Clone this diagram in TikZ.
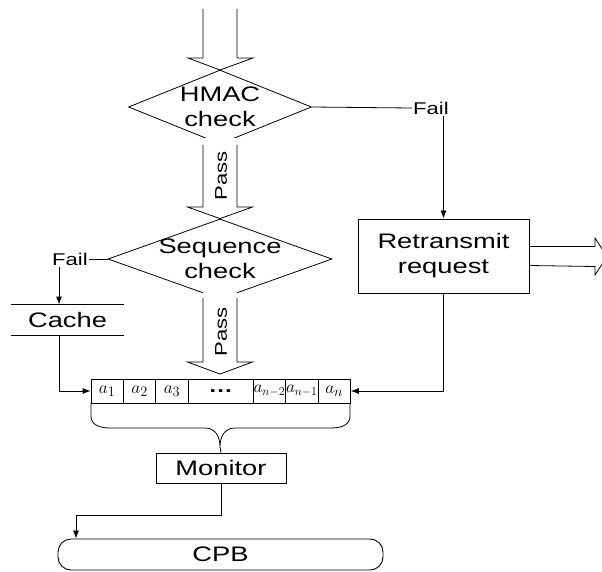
\documentclass[tikz,border=0pt]{standalone}
\usepackage{fontspec}
\setmainfont{Liberation Sans}[FakeStretch=1.3]
\usetikzlibrary{shapes.geometric,arrows.meta}

\tikzset{
  bigtxt/.style={font=\fontsize{21}{25}\selectfont, align=center},
  failtxt/.style={font=\fontsize{17}{20}\selectfont, inner sep=1pt},
  box/.style={draw, line width=0.9pt, bigtxt},
  decide/.style={diamond, draw, fill=white, inner sep=0pt},
  cell/.style={draw, minimum width=32.4pt, minimum height=24pt, inner sep=0pt, font=\fontsize{19}{19}\selectfont},
  tightcell/.style={cell, font=\fontsize{16.5}{17}\selectfont},
  conn/.style={-{Latex[length=8pt,width=6pt]}},
  hollow/.style={fill=white},
}

\begin{document}
\begin{tikzpicture}[x=1pt, y=-1pt, line width=0.8pt]
    \useasboundingbox (0,0) rectangle (602,571);
    \clip (0,0) rectangle (602,571);

    % incoming arrow
    \draw (203,9) -- (203,58) -- (188,58) -- (220,70) -- (253,58) -- (237,58) -- (237,9);

    % checks
    \node[decide, minimum width=183pt, minimum height=74pt, label={[bigtxt]center:HMAC\\check}] (hmac) at (220,107) {};
    \node[decide, minimum width=224pt, minimum height=80pt, label={[bigtxt]center:Sequence\\check}] (seq) at (220,259) {};

    % boxes
    \node[box, minimum width=171pt, minimum height=74pt] (retx) at (443.5,256) {Retransmit\\request};
    \node[bigtxt, minimum width=113pt, minimum height=30pt] (cache) at (67.5,320) {Cache};
    \draw (cache.north west) -- (cache.north east);
    \draw (cache.south west) -- (cache.south east);
    \node[box, minimum width=130pt, minimum height=30pt] (mon) at (221,468) {Monitor};
    \node[box, rounded corners=13pt, minimum width=325pt, minimum height=31pt] (cpb) at (220.5,554.5) {CPB};

    \node[failtxt] (fail1) at (431,108) {Fail};
    \node[failtxt] (fail2) at (70,259) {Fail};

    % pass arrows
    \fill[white] (203,138) rectangle (237,146);
    \filldraw[hollow] (203,145) -- (203,207) -- (187.5,207) -- (seq.north) -- (252.5,207) -- (237,207) -- (237,145);
    \node[failtxt, rotate=90] (pass1) at (221,176) {Pass};
    \fill[white] (203,291) rectangle (237,299);
    \filldraw[hollow] (203,298) -- (203,362) -- (187.5,362) -- (220,374) -- (252.5,362) -- (237,362) -- (237,298);
    \node[failtxt, rotate=90] (pass2) at (221,332) {Pass};

    % retransmit out
    \draw ([yshift=9.5pt]retx.east) -- (595,246.5) -- (595,238) -- (607,256.5) -- (595,275) -- (595,266.5) -- ([yshift=-9.5pt]retx.east);

    % buffer
    \node[cell] (c1) at (107.2,391) {\makebox[0pt]{$a_1$}};
    \node[cell] (c2) at (139.6,391) {\makebox[0pt]{$a_2$}};
    \node[cell] (c3) at (172,391) {\makebox[0pt]{$a_3$}};
    \node[cell, minimum width=64.8pt] (c4) at (220.8,391) {\bfseries\ldots};
    \node[tightcell] (c5) at (269.4,391) {\makebox[0pt]{$a_{n-2}$}};
    \node[tightcell] (c6) at (301.8,391) {\makebox[0pt]{$a_{n-1}$}};
    \node[cell] (c7) at (334.2,391) {\makebox[0pt]{$a_n$}};

    % brace
    \draw (91,403) -- (91,416) .. controls (91,424) and (98,428) .. (110,428) -- (205,428) .. controls (215,428) and (220,436) .. (220,447) .. controls (220,436) and (225,428) .. (235,428) -- (331,428) .. controls (343,428) and (350,424) .. (350,416) -- (350,403);
    \draw (220,447) -- (mon.north);

    % connectors
    \draw (hmac.east) -- (fail1.west);
    \draw[conn] (fail1.south -| retx.north) -- (retx.north);
    \draw (seq.west) -- (fail2.east);
    \draw[conn] ([xshift=-11pt]fail2.south) -- ([xshift=-8.5pt]cache.north);
    \draw[conn] ([xshift=-8.5pt]cache.south) |- (c1.west);
    \draw[conn] (retx.south) |- (c7.east);
    \coordinate (bend) at (76,515);
    \draw[conn] (mon.south) |- (bend) -- (bend |- cpb.north);
\end{tikzpicture}
\end{document}
